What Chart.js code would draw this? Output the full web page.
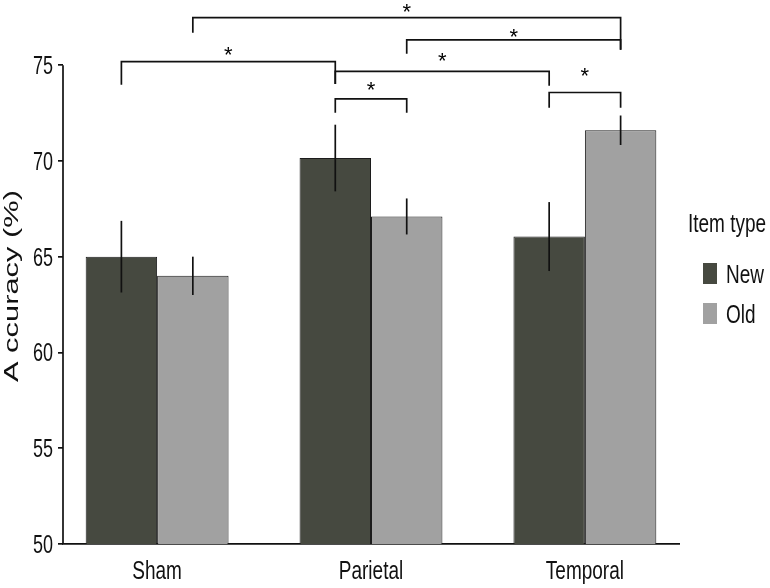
<!DOCTYPE html>
<html>
<head>
<meta charset="utf-8">
<title>Accuracy by site and item type</title>
<script src="https://cdn.jsdelivr.net/npm/chart.js@4.4.0/dist/chart.umd.min.js"></script>
<style>
  html, body { margin: 0; padding: 0; background: #fff; }
  canvas { display: block; }
</style>
</head>
<body>
<canvas id="chart" width="770" height="588"></canvas>
<script>
const sites = ["Sham", "Parietal", "Temporal"];
const sitePos = [1, 2, 3];
const itemTypes = ["New", "Old"];
const newMean = [65.0, 70.15, 66.05];
const newErr = [1.87, 1.74, 1.8];
const oldMean = [64.0, 67.1, 71.6];
const oldErr = [1.0, 0.94, 0.77];
const yTicks = [50, 55, 60, 65, 70, 75];

// significance brackets: [site, item] -> [site, item], bar level, leg ends, star level
const brackets = [
  { from: [0, 1], to: [2, 1], level: 77.48, ends: [76.69, 75.8], star: 78.05 },
  { from: [0, 0], to: [1, 0], level: 75.18, ends: [73.97, 74.02], star: 75.81 },
  { from: [1, 0], to: [2, 0], level: 74.67, ends: [74.02, 73.92], star: 75.5 },
  { from: [1, 0], to: [1, 1], level: 73.24, ends: [72.51, 72.51], star: 73.99 },
  { from: [1, 1], to: [2, 1], level: 76.32, ends: [75.59, 75.8], star: 76.74 },
  { from: [2, 0], to: [2, 1], level: 73.57, ends: [72.77, 72.77], star: 74.7 },
];

const SANS = "'Liberation Sans', Arial, sans-serif";
const ink = "#111";
const colors = ["#464940", "#a1a1a1"];
const STRETCH = 1.4; // source image is stretched vertically

// text squeezed like the source: normal glyphs, taller
function tallText(ctx, text, x, y, size, align) {
  ctx.save();
  ctx.translate(x, y);
  ctx.scale(1, STRETCH);
  ctx.font = size + "px " + SANS;
  ctx.textAlign = align;
  ctx.textBaseline = "alphabetic";
  ctx.fillText(text, 0, 0);
  ctx.restore();
}

const extras = {
  id: "extras",
  afterDatasetsDraw(chart) {
    const { ctx, scales: { x, y } } = chart;
    ctx.save();
    ctx.strokeStyle = ink;
    ctx.lineWidth = 1.7;

    // y axis line only over the tick range
    ctx.beginPath();
    ctx.moveTo(x.left, y.getPixelForValue(yTicks[0]));
    ctx.lineTo(x.left, y.getPixelForValue(yTicks[yTicks.length - 1]));
    ctx.stroke();

    // error bars
    const errs = [newErr, oldErr];
    chart.data.datasets.forEach((ds, di) => {
      chart.getDatasetMeta(di).data.forEach((bar, i) => {
        const m = ds.data[i].y;
        const e = errs[di][i];
        ctx.beginPath();
        ctx.moveTo(bar.x, y.getPixelForValue(m - e));
        ctx.lineTo(bar.x, y.getPixelForValue(m + e));
        ctx.stroke();
      });
    });

    // brackets + stars
    const barX = ([s, k]) => chart.getDatasetMeta(k).data[s].x;
    ctx.fillStyle = "#000";
    ctx.font = "22px " + SANS;
    ctx.textAlign = "center";
    ctx.textBaseline = "alphabetic";
    for (const b of brackets) {
      const x1 = barX(b.from), x2 = barX(b.to);
      const yl = y.getPixelForValue(b.level);
      ctx.beginPath();
      ctx.moveTo(x1, y.getPixelForValue(b.ends[0]));
      ctx.lineTo(x1, yl);
      ctx.lineTo(x2, yl);
      ctx.lineTo(x2, y.getPixelForValue(b.ends[1]));
      ctx.stroke();
      ctx.fillText("*", (x1 + x2) / 2, y.getPixelForValue(b.star) + 22 * 0.57);
    }
    ctx.restore();
  },
  afterDraw(chart) {
    const { ctx, chartArea, scales: { x, y } } = chart;
    ctx.save();
    ctx.fillStyle = ink;

    // tick labels
    y.ticks.forEach((t) => {
      const py = y.getPixelForValue(t.value);
      tallText(ctx, String(t.value), chartArea.left - 10, py + 9, 18, "right");
    });
    x.ticks.forEach((t) => {
      const px = x.getPixelForValue(t.value);
      tallText(ctx, sites[sitePos.indexOf(t.value)], px, chartArea.bottom + 35, 19, "center");
    });

    // y axis title (stretched along its length like the source)
    ctx.save();
    ctx.translate(18, 286);
    ctx.rotate(-Math.PI / 2);
    ctx.scale(1.47, 1);
    ctx.font = "21px " + SANS;
    ctx.textAlign = "center";
    ctx.textBaseline = "alphabetic";
    ctx.fillText("A ccuracy (%)", 0, 0);
    ctx.restore();

    // legend
    const lx = chartArea.right + 9;
    tallText(ctx, "Item type", lx, 232, 19, "left");
    chart.data.datasets.forEach((ds, i) => {
      const base = 283 + i * 40;
      ctx.fillStyle = ds.backgroundColor;
      ctx.fillRect(lx + 15, base - 20, 14, 21);
      ctx.fillStyle = ink;
      tallText(ctx, ds.label, lx + 38, base, 19, "left");
    });
    ctx.restore();
  },
};

new Chart(document.getElementById("chart"), {
  type: "bar",
  data: {
    datasets: itemTypes.map((label, k) => ({
      label,
      data: sitePos.map((p, i) => ({ x: p, y: (k === 0 ? newMean : oldMean)[i] })),
      backgroundColor: colors[k],
      borderColor: "#1c1c1c",
      borderWidth: 1,
      categoryPercentage: 0.668,
      barPercentage: 1,
    })),
  },
  options: {
    responsive: false,
    animation: false,
    events: [],
    layout: { padding: { top: 0, right: 91, left: 0, bottom: 0 } },
    plugins: { legend: { display: false }, tooltip: { enabled: false } },
    scales: {
      x: {
        type: "linear",
        offset: false,
        bounds: "data",
        min: 0.56,
        max: 3.44,
        afterBuildTicks: (s) => { s.ticks = sitePos.map((v) => ({ value: v })); },
        afterFit: (s) => { s.height = 44; },
        grid: { display: false, drawTicks: false },
        border: { display: true, color: ink, width: 1.7 },
        ticks: { display: false },
      },
      y: {
        min: 50,
        max: 78.4,
        afterBuildTicks: (s) => { s.ticks = yTicks.map((v) => ({ value: v })); },
        afterFit: (s) => { s.width = 63; },
        border: { display: false },
        grid: { drawOnChartArea: false, drawTicks: true, tickLength: 5, color: ink, lineWidth: 1.7 },
        ticks: { display: false },
      },
    },
  },
  plugins: [extras],
});
</script>
</body>
</html>
